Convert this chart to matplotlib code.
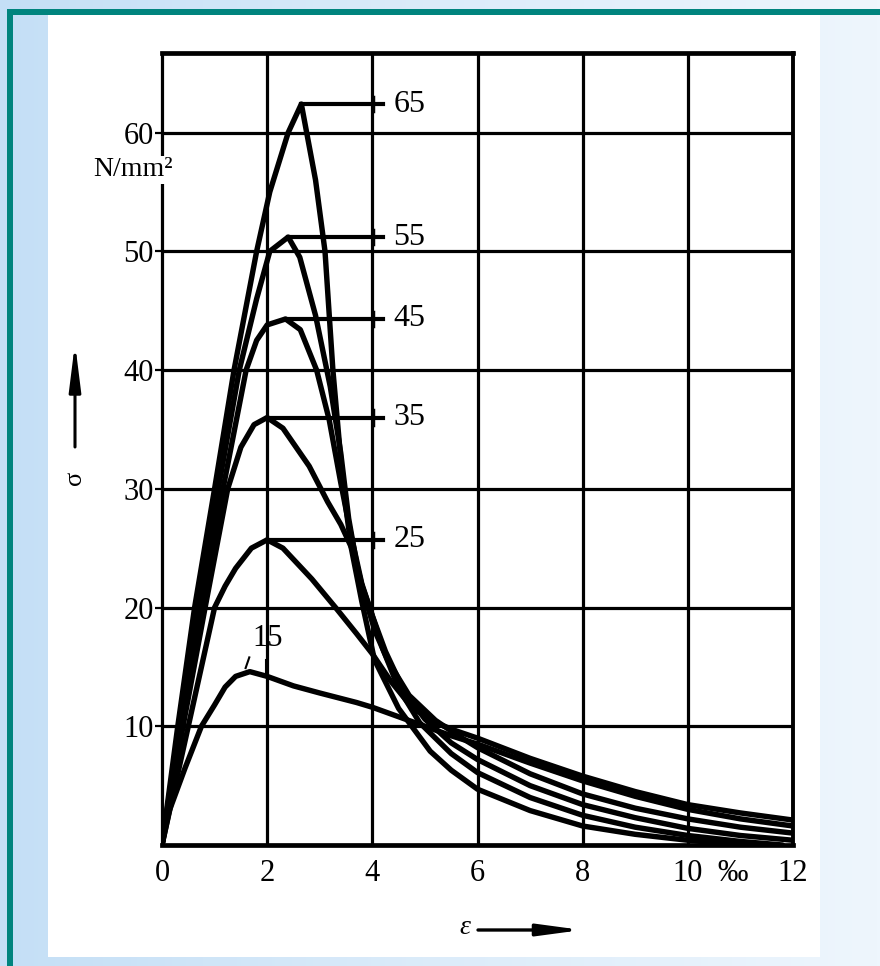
import matplotlib
matplotlib.use('Agg')
import matplotlib.pyplot as plt
import numpy as np
from matplotlib.patches import Rectangle
from matplotlib.colors import LinearSegmentedColormap

plt.rcParams['font.family'] = ['Liberation Serif', 'DejaVu Serif']

# ---- data (strain in per mille, stress in N/mm^2) ----
grades = ['15', '25', '35', '45', '55', '65']

eps_15 = [0, 0.14, 0.44, 0.75, 1.0, 1.2, 1.4, 1.67, 2.0, 2.5, 3.0, 3.7, 4.0, 4.75, 5.5, 6.0, 7.0, 8.0, 9.0, 10.0, 11.0, 12.0]
sig_15 = [0, 2.9, 6.5, 10.0, 11.8, 13.3, 14.2, 14.6, 14.2, 13.4, 12.8, 12.0, 11.6, 10.4, 9.2, 8.5, 6.9, 5.4, 4.1, 3.0, 2.2, 1.6]

eps_25 = [0, 0.5, 1.0, 1.2, 1.4, 1.7, 2.0, 2.3, 2.85, 3.3, 3.7, 4.0, 4.35, 4.75, 5.2, 5.6, 6.0, 7.0, 8.0, 9.0, 10.0, 11.0, 12.0]
sig_25 = [0, 10.0, 20.0, 21.8, 23.3, 25.0, 25.7, 25.0, 22.4, 20.0, 17.8, 16.1, 13.8, 11.6, 10.3, 9.6, 9.0, 7.3, 5.8, 4.5, 3.4, 2.7, 2.1]

eps_35 = [0, 0.4, 0.82, 1.25, 1.5, 1.75, 2.0, 2.3, 2.8, 3.15, 3.4, 3.65, 3.85, 4.05, 4.3, 4.7, 5.2, 5.6, 6.0, 7.0, 8.0, 9.0, 10.0, 11.0, 12.0]
sig_35 = [0, 10, 20, 30, 33.5, 35.4, 36.0, 35.1, 31.9, 28.9, 27.0, 24.6, 21.0, 18.0, 15.5, 12.6, 10.5, 9.3, 8.2, 6.0, 4.3, 3.1, 2.2, 1.5, 1.0]

eps_45 = [0, 0.36, 0.75, 1.16, 1.6, 1.8, 2.0, 2.35, 2.63, 2.94, 3.18, 3.4, 3.6, 3.8, 4.0, 4.25, 4.6, 5.0, 5.5, 6.0, 7.0, 8.0, 9.0, 10.0, 11.0, 12.0]
sig_45 = [0, 10, 20, 30, 40, 42.5, 43.8, 44.3, 43.4, 40.0, 35.8, 30.5, 26.0, 22.0, 19.3, 16.3, 13.0, 10.6, 8.6, 7.2, 5.0, 3.4, 2.3, 1.4, 0.8, 0.4]

eps_55 = [0, 0.33, 0.68, 1.07, 1.47, 1.8, 2.05, 2.4, 2.62, 2.92, 3.2, 3.4, 3.55, 3.75, 3.95, 4.2, 4.5, 4.9, 5.5, 6.0, 7.0, 8.0, 9.0, 10.0, 11.0, 11.8]
sig_55 = [0, 10, 20, 30, 40, 46.0, 50.0, 51.2, 49.5, 44.6, 38.6, 33.0, 27.5, 22.5, 20.0, 16.5, 13.2, 10.3, 7.7, 6.1, 4.0, 2.5, 1.5, 0.8, 0.3, 0.0]

eps_65 = [0, 0.3, 0.62, 1.0, 1.37, 1.8, 2.05, 2.4, 2.65, 2.92, 3.1, 3.25, 3.45, 3.6, 3.8, 4.04, 4.5, 4.75, 5.1, 5.5, 6.0, 7.0, 8.0, 9.0, 10.0, 11.0]
sig_65 = [0, 10, 20, 30, 40, 50, 55, 60, 62.4, 56, 50, 40, 30, 25, 20.5, 15.6, 11.5, 10.0, 7.9, 6.3, 4.7, 2.9, 1.6, 0.9, 0.4, 0.0]

x_ticks = [0, 2, 4, 6, 8, 10, 12]
x_tick_labels = ['0', '2', '4', '6', '8', '10', '12']
y_ticks = [10, 20, 30, 40, 50, 60]
y_tick_labels = ['10', '20', '30', '40', '50', '60']
unit_pos = [10.86]
unit_label = ['‰']

curves = [(eps_15, sig_15), (eps_25, sig_25), (eps_35, sig_35),
          (eps_45, sig_45), (eps_55, sig_55), (eps_65, sig_65)]

# ---- figure ----
W, H = 880, 966
fig = plt.figure(figsize=(W / 100, H / 100), dpi=100)

bg = fig.add_axes([0, 0, 1, 1])
bg.set_xlim(0, W)
bg.set_ylim(H, 0)
bg.axis('off')
cmap = LinearSegmentedColormap.from_list('bgc', ['#c4dff6', '#dcecfa', '#eef6fd'])
grad = np.linspace(0, 1, 256)[None, :]
bg.imshow(grad, extent=[0, W, H, 0], cmap=cmap, aspect='auto', zorder=0)
bg.add_patch(Rectangle((48, 15), 772, 942, facecolor='white', edgecolor='none', zorder=1))
bg.add_patch(Rectangle((7, 9), W - 7, 6, facecolor='#00847e', edgecolor='none', zorder=2))
bg.add_patch(Rectangle((7, 9), 6, H - 9, facecolor='#00847e', edgecolor='none', zorder=2))

# axis arrows and symbols
bg.annotate('', xy=(75, 343), xytext=(75, 447),
            arrowprops=dict(arrowstyle='-|>,head_length=2.8,head_width=0.35',
                            lw=2.2, color='black', shrinkA=0, shrinkB=0), zorder=3)
bg.text(75, 478, 'σ', rotation=90, fontsize=19, ha='center', va='center', zorder=3)
bg.annotate('', xy=(582, 930), xytext=(478, 930),
            arrowprops=dict(arrowstyle='-|>,head_length=2.6,head_width=0.35',
                            lw=2.4, color='black', shrinkA=0, shrinkB=0), zorder=3)
bg.text(465, 927, 'ε', fontsize=20, style='italic', ha='center', va='center', zorder=3)

ax = fig.add_axes([162 / W, 1 - 845 / H, 631 / W, 792 / H])
ax.patch.set_alpha(0)
ax.set_xlim(0, 12)
ax.set_ylim(0, 66.7)

ax.set_xticks(x_ticks, x_tick_labels)
ax.set_xticks(unit_pos, unit_label, minor=True)
ax.set_yticks(y_ticks, y_tick_labels)
ax.grid(True, which='major', color='black', lw=2.3)
ax.set_axisbelow(True)
ax.tick_params(axis='x', which='both', length=0, pad=10, labelsize=22)
ax.tick_params(axis='y', length=5, width=1.6, pad=1, labelsize=22)

for side, lw in [('top', 3.4), ('right', 2.8), ('bottom', 3.4), ('left', 1.6)]:
    ax.spines[side].set_linewidth(lw)
    ax.spines[side].set_color('black')

for e, s in curves:
    ax.plot(e, s, color='black', lw=3.9, solid_joinstyle='round', solid_capstyle='round', zorder=4)

# peak leader lines with labels (grades 25 ... 65)
for g, (e, s) in zip(grades[1:], curves[1:]):
    i = int(np.argmax(s))
    ax.plot([e[i], 4.2], [s[i], s[i]], color='black', lw=3.0, zorder=4)
    ax.plot([4.02, 4.02], [s[i] - 0.6, s[i] + 0.6], color='black', lw=2.5, zorder=4)
    ax.text(4.4, s[i], g, ha='left', va='center', fontsize=23, zorder=5)

# label for grade 15
i15 = int(np.argmax(sig_15))
ax.text(2.0, 17.4, grades[0], ha='center', va='center', fontsize=22, zorder=5)
ax.plot([eps_15[i15] - 0.08, eps_15[i15] - 0.01], [sig_15[i15] + 0.3, sig_15[i15] + 1.2], color='black', lw=1.5)
ax.plot([1.97, 1.97], [14.5, 15.6], color='black', lw=1.5)

ax.text(133, 170, 'N/mm²', transform=bg.transData, fontsize=20, ha='center', va='center',
        clip_on=False, zorder=6,
        bbox=dict(facecolor='white', edgecolor='none', pad=1))

fig.savefig('out.png', dpi=100)
